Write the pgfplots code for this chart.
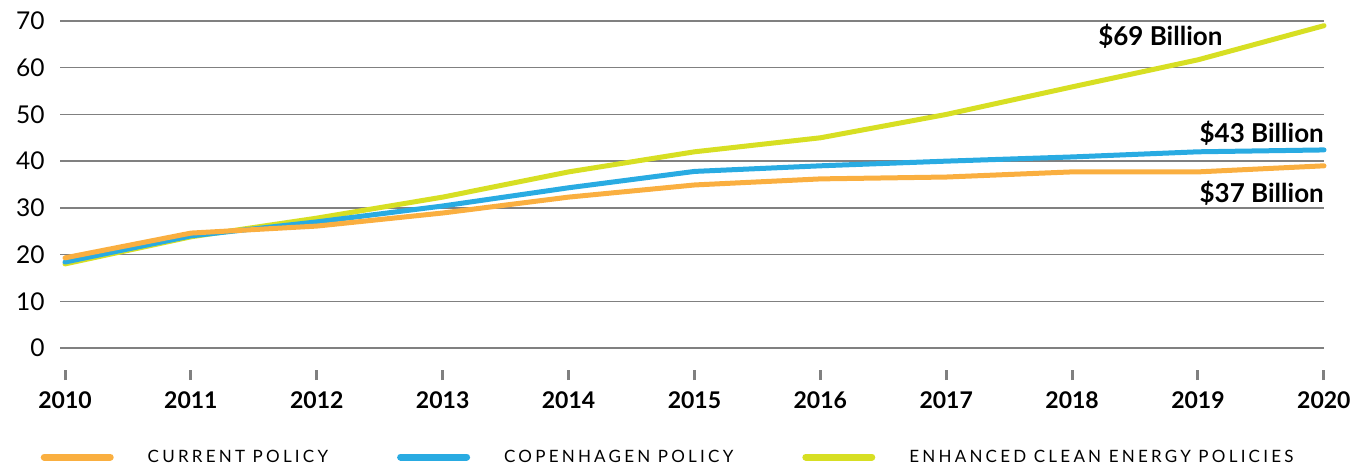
\documentclass[border=0pt]{standalone}
\usepackage{fontspec}
\setmainfont{Lato}
\newfontfamily\legfont[LetterSpace=19]{Lato}
\usepackage{pgfplots}
\pgfplotsset{compat=1.18}

\definecolor{curC}{RGB}{250,175,64}
\definecolor{copC}{RGB}{41,171,226}
\definecolor{encC}{RGB}{215,223,35}
\definecolor{gridC}{RGB}{128,128,128}

\begin{document}
\begin{tikzpicture}
\useasboundingbox (0,0) rectangle (1366pt,-468pt);
\begin{axis}[
    at={(60pt,-380pt)},
    scale only axis,
    width=1264pt, height=359pt,
    xmin=2009.96, xmax=2020,
    ymin=-6.85, ymax=70,
    clip=false,
    axis line style={draw=none},
    ytick={0,10,...,70},
    ymajorgrids,
    grid style={gridC, line width=1.5pt},
    ytick style={draw=none},
    xtick={2010,...,2020},
    xtick pos=bottom,
    xtick align=inside,
    major tick length=10pt,
    xtick style={gridC, line width=3pt},
    /pgf/number format/1000 sep={},
    /pgf/number format/assume math mode=true,
    yticklabel style={font=\fontsize{24.5}{24.5}\selectfont, xshift=-12pt},
    xticklabel style={font=\bfseries\fontsize{23}{23}\selectfont, yshift=-8pt},
    legend columns=3,
    legend style={at={(rel axis cs:-0.0154,-0.2145)}, anchor=west,
        draw=none, fill=none, inner sep=0pt,
        font=\legfont\fontsize{17}{17}\selectfont,
        nodes={inner sep=0pt},
        /tikz/every odd column/.style={column sep=34pt},
        /tikz/every even column/.style={column sep=69pt}},
    legend image code/.code={\draw[#1, line width=7pt, line cap=round] (0pt,0pt) -- (66pt,0pt);},
]

% enhanced clean energy policies (drawn first, lies underneath)
\addplot[encC, line width=5pt, line cap=round, line join=round, forget plot] coordinates {
    (2010,18.0) (2011,23.8) (2012,27.8) (2013,32.3) (2014,37.7) (2015,42.0)
    (2016,45.0) (2017,50.0) (2018,55.9) (2019,61.7) (2020,69.0)
};
% copenhagen policy
\addplot[copC, line width=5pt, line cap=round, line join=round, forget plot] coordinates {
    (2010,18.4) (2011,24.0) (2012,27.0) (2013,30.4) (2014,34.3) (2015,37.8)
    (2016,39.0) (2017,40.0) (2018,40.9) (2019,42.0) (2020,42.4)
};
% current policy
\addplot[curC, line width=5pt, line cap=round, line join=round, forget plot] coordinates {
    (2010,19.3) (2011,24.6) (2012,26.1) (2013,28.9) (2014,32.3) (2015,34.9)
    (2016,36.2) (2017,36.6) (2018,37.7) (2019,37.7) (2020,39.0)
};

\addlegendimage{curC}
\addlegendentry{CURRENT POLICY}
\addlegendimage{copC}
\addlegendentry{COPENHAGEN POLICY}
\addlegendimage{encC}
\addlegendentry{ENHANCED CLEAN ENERGY POLICIES}

\node[font=\bfseries\fontsize{26}{26}\selectfont, inner sep=0pt] at (axis cs:2018.70,66.8) {\$69 Billion};
\node[font=\bfseries\fontsize{26}{26}\selectfont, inner sep=0pt, anchor=east] at (axis cs:2020,46.0) {\$43 Billion};
\node[font=\bfseries\fontsize{26}{26}\selectfont, inner sep=0pt, anchor=east] at (axis cs:2020,33.2) {\$37 Billion};

\end{axis}
\end{tikzpicture}
\end{document}
